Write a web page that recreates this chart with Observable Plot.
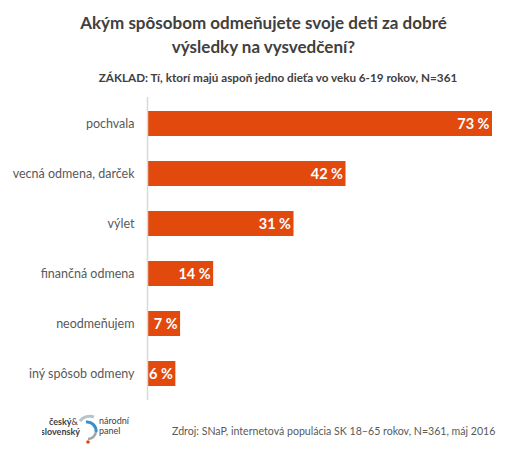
<!DOCTYPE html>
<html>
<head>
<meta charset="utf-8">
<script src="https://cdn.jsdelivr.net/npm/d3@7"></script>
<script src="https://cdn.jsdelivr.net/npm/@observablehq/plot@0.6"></script>
<style>
  html, body { margin: 0; padding: 0; background: #fff; }
  #wrap { position: relative; width: 517px; height: 454px; overflow: hidden; font-family: Lato, "Open Sans", sans-serif; color: #404040; }
  #title { position: absolute; left: 0; width: 527px; top: 11px; text-align: center; font-weight: bold; font-size: 17px; line-height: 24px; color: #404040; }
  #subtitle { position: absolute; left: 0; width: 556px; top: 70px; text-align: center; font-weight: bold; font-size: 11.7px; color: #404040; }
  #chart { position: absolute; left: 0; top: 92px; width: 517px; }
  #source { position: absolute; left: 172px; top: 425px; font-size: 10.6px; color: #595959; white-space: nowrap; }
  #logo { position: absolute; left: 42px; top: 412px; }
</style>
</head>
<body>
<div id="wrap">
  <div id="title">Akým spôsobom odmeňujete svoje deti za dobré<br>výsledky na vysvedčení?</div>
  <div id="subtitle">ZÁKLAD: Tí, ktorí majú aspoň jedno dieťa vo veku 6-19 rokov, N=361</div>
  <div id="chart"></div>
  <svg id="logo" width="95" height="36" viewBox="0 0 95 36">
    <text x="36" y="13" text-anchor="end" font-size="9" font-weight="bold" fill="#404040" font-family="Lato, sans-serif">český<tspan font-weight="normal">&amp;</tspan></text>
    <text x="38" y="23" text-anchor="end" font-size="9" font-weight="bold" fill="#404040" font-family="Lato, sans-serif">slovenský</text>
    <path d="M38 9 A12 12 0 0 1 52 5" fill="none" stroke="#b8c4cc" stroke-width="3"/>
    <path d="M44 10 A9 9 0 0 1 54 20" fill="none" stroke="#3a8fc9" stroke-width="3"/>
    <path d="M54 20 A9 9 0 0 1 46 27" fill="none" stroke="#9aa6ae" stroke-width="2.5"/>
    <circle cx="46" cy="30" r="1.8" fill="#e2490c"/>
    <text x="57" y="12" font-size="9" fill="#404040" font-family="Lato, sans-serif">národní</text>
    <text x="57" y="22" font-size="9" fill="#404040" font-family="Lato, sans-serif">panel</text>
  </svg>
  <div id="source">Zdroj: SNaP, internetová populácia SK 18–65 rokov, N=361, máj 2016</div>
</div>
<script>
// Answers and their shares (%)
const categories = ["pochvala", "vecná odmena, darček", "výlet", "finančná odmena", "neodmeňujem", "iný spôsob odmeny"];
const values = [73, 42, 31, 14, 7, 6];

const data = categories.map((c, i) => ({category: c, value: values[i]}));

const chart = Plot.plot({
  width: 517,
  height: 312,
  marginLeft: 147,
  marginRight: 25,
  marginTop: 5,
  marginBottom: 4,
  style: {fontFamily: "Lato, 'Open Sans', sans-serif", background: "transparent"},
  x: {domain: [0, 73], axis: null},
  y: {domain: categories, paddingInner: 0.5, paddingOuter: 0.25, label: null},
  marks: [
    Plot.barX(data, {x: "value", y: "category", fill: "#e2490c"}),
    Plot.ruleX([0], {stroke: "#d9d9d9", strokeWidth: 1.5}),
    Plot.axisY({tickSize: 0, tickPadding: 13, fontSize: 12.5, color: "#595959", label: null}),
    Plot.text(data, {x: "value", y: "category", text: d => `${d.value} %`, textAnchor: "end", dx: -3, fill: "white", fontWeight: "bold", fontSize: 14.5})
  ]
});
document.getElementById("chart").appendChild(chart);
</script>
</body>
</html>
